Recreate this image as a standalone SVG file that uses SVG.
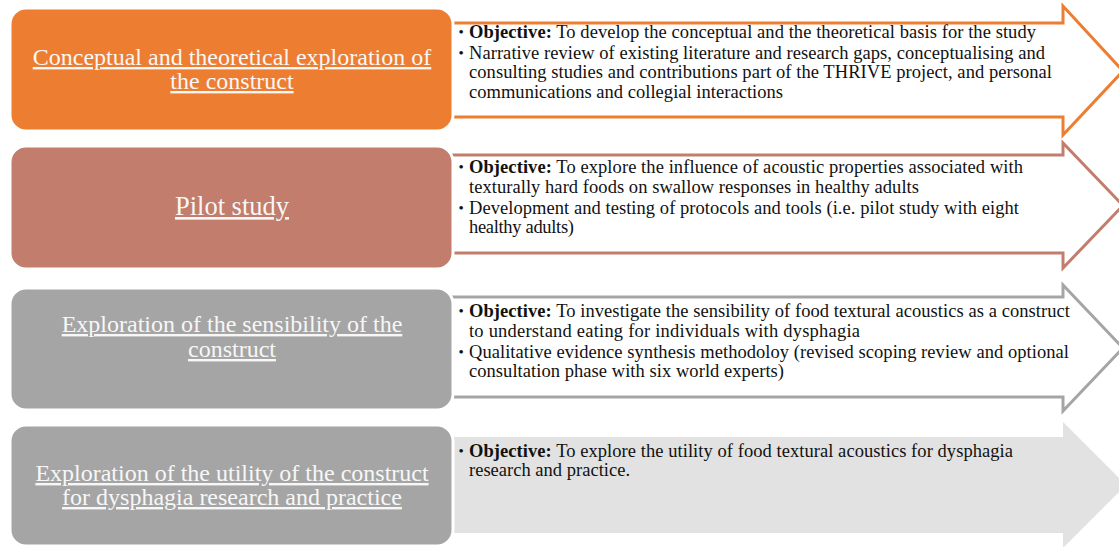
<svg xmlns="http://www.w3.org/2000/svg" width="1119" height="547" viewBox="0 0 1119 547">
  <style>
    .stage-box { stroke: #ffffff; stroke-width: 3; }
    .title { font-family: "Liberation Serif", "Times New Roman", serif; font-size: 24px; fill: #f7f7f7; text-anchor: middle; text-decoration: underline; }
    .body { font-family: "Liberation Serif", "Times New Roman", serif; font-size: 18.5px; fill: #111111; }
    .bullet { font-family: "Liberation Serif", "Times New Roman", serif; font-size: 15px; fill: #111111; }
    .b { font-weight: bold; }
    .arrow { stroke-width: 3; stroke-linejoin: miter; }
  </style>

  <rect width="1119" height="547" fill="#ffffff"/>

  <!-- block arrows carrying the stage descriptions -->
  <g id="connectors">
    <path class="arrow" fill="#ffffff" stroke="#ed7d31" d="M448,23 H1063 V6 L1123,71 L1063,135 V117 H448 Z"/>
    <path class="arrow" fill="#ffffff" stroke="#c27d6d" d="M448,155 H1063 V143 L1123,205.5 L1063,268 V253 H448 Z"/>
    <path class="arrow" fill="#ffffff" stroke="#a5a5a5" d="M448,297 H1063 V285 L1123,348 L1063,411 V397 H448 Z"/>
    <path fill="#e2e2e2" d="M448,437 H1063 V422 L1126,485 L1063,548 V533 H448 Z"/>
  </g>

  <!-- stage 1 -->
  <g id="stage-conceptual">
    <rect class="stage-box" x="10" y="8" width="443" height="123" rx="16" fill="#ed7d31"/>
    <text class="title" x="232" y="65">Conceptual and theoretical exploration of</text>
    <text class="title" x="232" y="89">the construct</text>
    <text class="bullet" x="458.5" y="37">•</text>
    <text class="body" x="469" y="38" textLength="567"><tspan class="b">Objective:</tspan> To develop the conceptual and the theoretical basis for the study</text>
    <text class="bullet" x="458.5" y="57.5">•</text>
    <text class="body" x="469" y="58.5" textLength="576">Narrative review of existing literature and research gaps, conceptualising and</text>
    <text class="body" x="469" y="78" textLength="583">consulting studies and contributions part of the THRIVE project, and personal</text>
    <text class="body" x="469" y="97.5" textLength="314">communications and collegial interactions</text>
  </g>

  <!-- stage 2 -->
  <g id="stage-pilot">
    <rect class="stage-box" x="10" y="146" width="443" height="123" rx="16" fill="#c27d6d"/>
    <text class="title" x="232" y="215" style="font-size:26.5px">Pilot study</text>
    <text class="bullet" x="458.5" y="172">•</text>
    <text class="body" x="469" y="173" textLength="554"><tspan class="b">Objective:</tspan> To explore the influence of acoustic properties associated with</text>
    <text class="body" x="469" y="192.5" textLength="450">texturally hard foods on swallow responses in healthy adults</text>
    <text class="bullet" x="458.5" y="212.5">•</text>
    <text class="body" x="469" y="213.5" textLength="550">Development and testing of protocols and tools (i.e. pilot study with eight</text>
    <text class="body" x="469" y="233" textLength="105">healthy adults)</text>
  </g>

  <!-- stage 3 -->
  <g id="stage-sensibility">
    <rect class="stage-box" x="10" y="288" width="443" height="122" rx="16" fill="#a5a5a5"/>
    <text class="title" x="232" y="332">Exploration of the sensibility of the</text>
    <text class="title" x="232" y="357">construct</text>
    <text class="bullet" x="458.5" y="316">•</text>
    <text class="body" x="469" y="317" textLength="601"><tspan class="b">Objective:</tspan> To investigate the sensibility of food textural acoustics as a construct</text>
    <text class="body" x="469" y="336.5" textLength="391">to understand eating for individuals with dysphagia</text>
    <text class="bullet" x="458.5" y="356.5">•</text>
    <text class="body" x="469" y="357.5" textLength="600">Qualitative evidence synthesis methodoloy (revised scoping review and optional</text>
    <text class="body" x="469" y="377" textLength="315">consultation phase with six world experts)</text>
  </g>

  <!-- stage 4 -->
  <g id="stage-utility">
    <rect class="stage-box" x="10" y="425" width="443" height="121" rx="16" fill="#a5a5a5"/>
    <text class="title" x="232" y="481">Exploration of the utility of the construct</text>
    <text class="title" x="232" y="505">for dysphagia research and practice</text>
    <text class="bullet" x="458.5" y="455.5">•</text>
    <text class="body" x="469" y="456.5" textLength="544"><tspan class="b">Objective:</tspan> To explore the utility of food textural acoustics for dysphagia</text>
    <text class="body" x="469" y="476" textLength="161">research and practice.</text>
  </g>
</svg>
